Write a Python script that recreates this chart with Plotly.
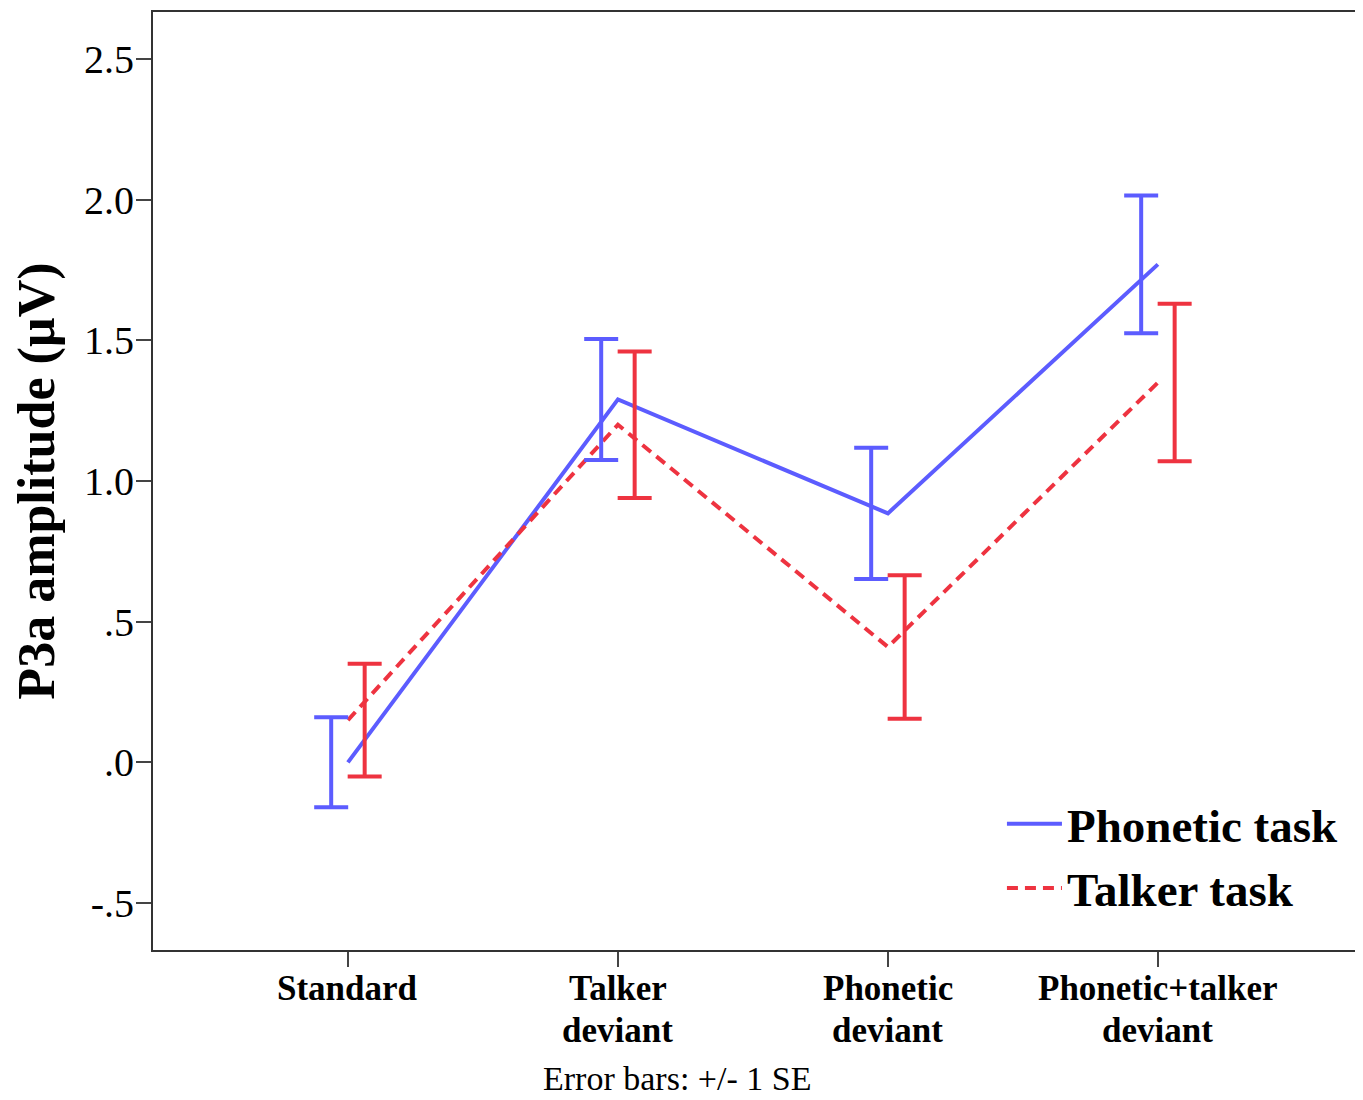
import plotly.graph_objects as go

label_line1 = ["Standard", "Talker", "Phonetic", "Phonetic+talker"]
label_line2 = ["", "deviant", "deviant", "deviant"]
phonetic_mean = [0.0, 1.29, 0.885, 1.77]
phonetic_se = [0.16, 0.215, 0.233, 0.245]
talker_mean = [0.15, 1.20, 0.41, 1.35]
talker_se = [0.20, 0.26, 0.255, 0.28]
ytick_vals = [-0.5, 0.0, 0.5, 1.0, 1.5, 2.0, 2.5]
ytick_text = ["-.5", ".0", ".5", "1.0", "1.5", "2.0", "2.5"]

BLUE = "#5c5cff"
RED = "#ee3340"
FONT = "Liberation Serif"
xpos = list(range(len(label_line1)))
off = 0.062

fig = go.Figure()
fig.add_trace(go.Scatter(x=xpos, y=phonetic_mean, mode="lines", name="Phonetic task",
                         line=dict(color=BLUE, width=4)))
fig.add_trace(go.Scatter(x=xpos, y=talker_mean, mode="lines", name="Talker task",
                         line=dict(color=RED, width=4, dash="11px,7px")))
fig.add_trace(go.Scatter(x=[p - off for p in xpos], y=phonetic_mean, mode="markers",
                         marker=dict(size=0.1, color=BLUE, opacity=0), showlegend=False,
                         error_y=dict(type="data", array=phonetic_se, color=BLUE,
                                      thickness=4, width=17)))
fig.add_trace(go.Scatter(x=[p + off for p in xpos], y=talker_mean, mode="markers",
                         marker=dict(size=0.1, color=RED, opacity=0), showlegend=False,
                         error_y=dict(type="data", array=talker_se, color=RED,
                                      thickness=4, width=17)))

annotations = []
for xi, t1, t2 in zip(xpos, label_line1, label_line2):
    annotations.append(dict(text=t1, x=xi, xref="x", y=0, yref="paper", yanchor="middle",
                            yshift=-38, showarrow=False, borderpad=0,
                            font=dict(family=FONT, size=35, weight="bold", color="black")))
    if t2:
        annotations.append(dict(text=t2, x=xi, xref="x", y=0, yref="paper", yanchor="middle",
                                yshift=-80, showarrow=False, borderpad=0,
                                font=dict(family=FONT, size=35, weight="bold", color="black")))
annotations.append(dict(text="Error bars: +/- 1 SE", x=0.436, y=0, xref="paper", yref="paper",
                        xanchor="center", yanchor="middle", yshift=-128, showarrow=False,
                        borderpad=0, font=dict(family=FONT, size=34, color="black")))

fig.update_layout(
    width=1355, height=1092,
    margin=dict(l=145, r=8, t=2, b=150),
    paper_bgcolor="white", plot_bgcolor="white",
    font=dict(family=FONT, color="black"),
    showlegend=True,
    legend=dict(x=0.9908, y=0.174, xanchor="right", yanchor="top",
                font=dict(family=FONT, size=47, weight="bold", color="black"),
                bgcolor="rgba(0,0,0,0)", itemwidth=55, tracegroupgap=0),
    xaxis=dict(range=[-0.722, 3.730], tickmode="array", tickvals=xpos, ticktext=[""] * len(xpos),
               showgrid=False, zeroline=False, showline=True, linecolor="#333", linewidth=2,
               mirror=True, ticks="outside", ticklen=15, tickwidth=2, tickcolor="#444"),
    yaxis=dict(range=[-0.667, 2.667], tickmode="array", tickvals=ytick_vals, ticktext=ytick_text,
               showgrid=False, zeroline=False, showline=True, linecolor="#333", linewidth=2,
               mirror=True, ticks="outside", ticklen=15, tickwidth=2, tickcolor="#444",
               ticklabelstandoff=-6,
               tickfont=dict(family=FONT, size=40, color="black"),
               title=dict(text="P3a amplitude (µV)", standoff=24,
                          font=dict(family=FONT, size=52, weight="bold", color="black"))),
    annotations=annotations,
)

fig.write_html("out.html")
